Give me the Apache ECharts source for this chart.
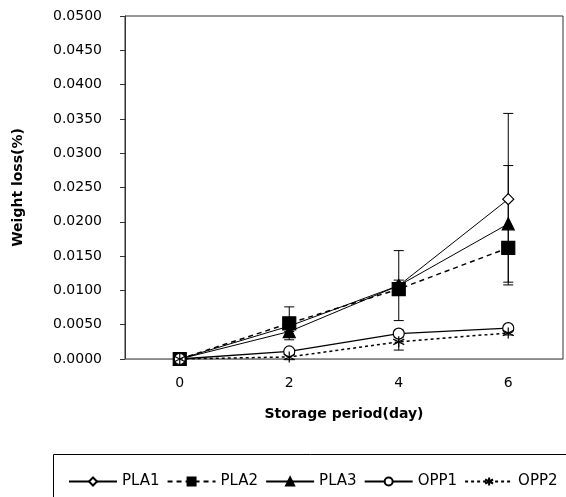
<!DOCTYPE html>
<html>
<head>
<meta charset="utf-8">
<script src="https://cdn.jsdelivr.net/npm/echarts@6/dist/echarts.min.js"></script>
<style>html,body{margin:0;padding:0;background:#fff;}#c{width:566px;height:497px;}</style>
</head>
<body>
<div id="c"></div>
<script>
var days = ['0', '2', '4', '6'];
var seriesNames = ['PLA1', 'PLA2', 'PLA3', 'OPP1', 'OPP2'];
var PLA1 = [0, 0.0048, 0.0107, 0.0233];
var PLA2 = [0, 0.0052, 0.0102, 0.0162];
var PLA3 = [0, 0.0040, 0.0107, 0.0197];
var OPP1 = [0, 0.0011, 0.0037, 0.0045];
var OPP2 = [0, 0.0003, 0.0025, 0.0038];
var PLA1err = [0, 0.0008, 0.0051, 0.0125];
var PLA2err = [0, 0.0024, 0.0008, 0.0008];
var PLA3err = [0, 0.0008, 0.0008, 0.0085];
var OPP1err = [0, 0.0003, 0.0005, 0.0003];
var OPP2err = [0, 0.0004, 0.0012, 0.0003];
var yTickFormat = function (v) { return v.toFixed(4); };

var FONT = 'DejaVu Sans';
var values = [PLA1, PLA2, PLA3, OPP1, OPP2];
var errs = [PLA1err, PLA2err, PLA3err, OPP1err, OPP2err];
var styles = [
  {symbol: 'diamond', size: 11, fill: '#fff', line: 'solid', lw: 1},
  {symbol: 'rect', size: 13, fill: '#000', line: [5, 4], lw: 1.5},
  {symbol: 'triangle', size: 12, fill: '#000', line: 'solid', lw: 1},
  {symbol: 'circle', size: 11, fill: '#fff', line: 'solid', lw: 1.3},
  {symbol: 'path://M5,0L5,10M0.7,2.5L9.3,7.5M9.3,2.5L0.7,7.5', size: 11, fill: '#000', line: [3, 3], lw: 1.5}
];

var series = [];
values.forEach(function (vals, k) {
  var data = vals.map(function (v, i) { return [i, v, errs[k][i]]; });
  series.push({
    name: 'err' + k,
    type: 'custom',
    z: 1,
    silent: true,
    data: data,
    renderItem: function (params, api) {
      var x = api.value(0), v = api.value(1), e = api.value(2);
      if (!e) return null;
      var top = api.coord([x, v + e]);
      var bot = api.coord([x, v - e]);
      var w = 5;
      var st = {stroke: '#000', lineWidth: 1};
      return {
        type: 'group',
        children: [
          {type: 'line', shape: {x1: top[0], y1: top[1], x2: bot[0], y2: bot[1]}, style: st},
          {type: 'line', shape: {x1: top[0] - w, y1: top[1], x2: top[0] + w, y2: top[1]}, style: st},
          {type: 'line', shape: {x1: bot[0] - w, y1: bot[1], x2: bot[0] + w, y2: bot[1]}, style: st}
        ]
      };
    }
  });
});
values.forEach(function (vals, k) {
  var s = styles[k];
  series.push({
    name: seriesNames[k],
    type: 'line',
    z: 3 + k,
    data: vals,
    symbol: s.symbol,
    symbolSize: s.size,
    showAllSymbol: true,
    lineStyle: {color: '#000', width: s.lw, type: s.line},
    itemStyle: {color: s.fill, borderColor: '#000', borderWidth: 1.2},
    emphasis: {disabled: true}
  });
});

var chart = echarts.init(document.getElementById('c'), null, {renderer: 'canvas'});
chart.setOption({
  animation: false,
  backgroundColor: '#fff',
  grid: {left: 125, right: 3, top: 16, bottom: 138, show: true, borderColor: '#333', borderWidth: 1},
  xAxis: {
    type: 'category',
    data: days,
    boundaryGap: true,
    name: 'Storage period(day)',
    nameLocation: 'middle',
    nameGap: 48,
    nameTextStyle: {fontFamily: FONT, fontSize: 14, fontWeight: 'bold', color: '#000'},
    axisLine: {lineStyle: {color: '#888', width: 1}},
    axisTick: {show: false},
    axisLabel: {fontFamily: FONT, fontSize: 14, color: '#000', margin: 17}
  },
  yAxis: {
    type: 'value',
    min: 0,
    max: 0.05,
    interval: 0.005,
    name: 'Weight loss(%)',
    nameLocation: 'middle',
    nameGap: 100,
    nameTextStyle: {fontFamily: FONT, fontSize: 14, fontWeight: 'bold', color: '#000'},
    axisLine: {show: true, lineStyle: {color: '#333', width: 1}},
    axisTick: {show: true, length: 5, lineStyle: {color: '#333'}},
    splitLine: {show: false},
    axisLabel: {fontFamily: FONT, fontSize: 14, color: '#000', margin: 23, formatter: yTickFormat}
  },
  legend: {
    data: seriesNames,
    left: 63,
    top: 469,
    itemWidth: 48,
    itemHeight: 10,
    itemGap: 7,
    textStyle: {fontFamily: FONT, fontSize: 15, color: '#000'},
    selectedMode: false
  },
  graphic: [{
    type: 'rect',
    shape: {x: 53.5, y: 454.5, width: 600, height: 100},
    style: {fill: 'none', stroke: '#000', lineWidth: 1},
    silent: true
  }],
  series: series
});
</script>
</body>
</html>
